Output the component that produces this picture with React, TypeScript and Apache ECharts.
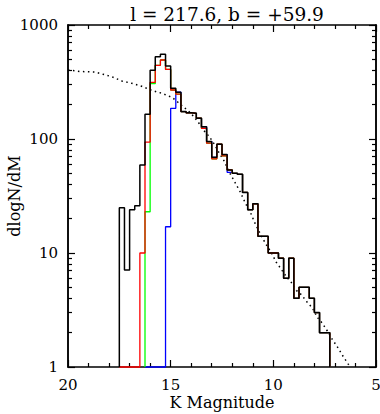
import React, { useEffect, useRef } from "react";
import * as echarts from "echarts";

// Histogram bins: 0.25 mag wide, listed from the faint (left) start edge toward brighter mags
const binWidth = 0.25;

const blackStart = 17.5;
const blackValues = [
  25, 7.1, 24, 26, 59, 165, 401, 527, 553, 437, 279, 257, 174, 170, 168, 152, 128, 95, 69, 90,
  73, 53.5, 50, 49, 34, 24, 27, 14, 14, 10, 10, 9, 6, 9, 4, 5, 5, 4, 3, 2, 2,
];

const redStart = 17.5;
const redValues = [
  0, 0, 0, 0, 10, 94, 314, 443, 493, 408, 269, 248, 174, 170, 168, 152, 124, 92, 67, 90,
  71, 53.5, 50, 49, 34, 24, 27, 14, 14, 10, 10, 9, 6, 9, 4, 5, 5, 4, 3, 2, 2,
];

const greenStart = 16.25;
const greenValues = [
  23, 306, 443, 493, 408, 269, 248, 174, 170, 168, 152, 124, 92, 67, 90, 71, 53.5, 50, 49, 34,
  24, 27, 14, 14, 10, 10, 9, 6, 9, 4, 5, 5, 4, 3, 2, 2,
];

const blueStart = 16.25;
const blueValues = [
  0, 0, 0, 0, 17, 186, 257, 174, 170, 168, 152, 128, 95, 69, 90, 73, 51, 50, 49, 34,
  24, 27, 14, 14, 10, 10, 9, 6, 9, 4, 5, 5, 4, 3, 2, 2,
];

// Dotted model curve (K magnitude, dlogN/dM)
const modelMag = [
  20.0, 19.4, 18.7, 18.3, 17.87, 17.38, 16.9, 16.41, 15.92, 15.41, 14.92, 14.63, 14.38, 14.14,
  13.9, 13.65, 13.41, 13.12, 12.87, 12.63, 12.39, 12.14, 11.9, 11.61, 11.36, 11.12, 10.88, 10.65,
  10.39, 10.1, 9.86, 9.61, 9.37, 9.12, 8.88, 8.63, 8.35, 8.1, 7.86, 7.61, 7.37, 7.13, 6.84, 6.59,
  6.35, 6.25,
];
const modelValues = [
  403, 391, 387, 370, 352, 323, 308, 290, 267, 251, 231, 209, 191, 177, 159, 140, 120, 105, 90,
  75, 64, 51, 42.6, 34.3, 27.3, 22.8, 18, 14.9, 12.2, 10.1, 8.3, 7.2, 6.2, 5.5, 4.7, 4.3, 3.7, 3.3,
  2.73, 2.42, 2.07, 1.75, 1.46, 1.23, 1.06, 1.0,
];

const yTickValues = [1, 10, 100, 1000];
const yMinorValues = [2, 3, 4, 5, 6, 7, 8, 9, 20, 30, 40, 50, 60, 70, 80, 90, 200, 300, 400, 500, 600, 700, 800, 900];
const xTicks = [20, 15, 10, 5];
const titleText = "l = 217.6, b = +59.9";

const FONT = "DejaVu Serif";
const lg = (v: number) => (v > 0 ? Math.log10(v) : 0);

function stepPoints(start: number, values: number[]) {
  const pts: number[][] = [[start, 0]];
  values.forEach((v, i) => pts.push([start - i * binWidth, v]));
  const end = start - values.length * binWidth;
  pts.push([end, values[values.length - 1]]);
  pts.push([end, 0]);
  return pts.map(([m, v]) => [m, lg(v)]);
}

export default function App() {
  const ref = useRef<HTMLDivElement>(null);
  useEffect(() => {
    if (!ref.current) return;
    const chart = echarts.init(ref.current, null, { renderer: "svg" });
    const yMin = lg(yTickValues[0]);
    const yMax = lg(yTickValues[yTickValues.length - 1]);
    const xMin = Math.min(...xTicks);
    const xMax = Math.max(...xTicks);
    const baseY = (position: string, labels: boolean, minor: boolean) => ({
      type: "value",
      position,
      min: yMin,
      max: yMax,
      interval: 1,
      axisLine: { show: true, onZero: false, lineStyle: { color: "#000", width: 1.5 } },
      axisTick: minor
        ? { show: true, inside: true, length: 4, customValues: yMinorValues.map(lg), lineStyle: { color: "#000", width: 1.2 } }
        : { show: true, inside: true, length: 7, lineStyle: { color: "#000", width: 1.2 } },
      axisLabel: labels
        ? {
            show: true,
            margin: 10,
            fontFamily: FONT,
            fontSize: 15,
            color: "#000",
            formatter: (v: number) => String(Math.round(Math.pow(10, v))),
          }
        : { show: false },
      splitLine: { show: false },
      ...(labels
        ? {
            name: "dlogN/dM",
            nameLocation: "middle",
            nameGap: 46,
            nameMoveOverlap: false,
            nameTextStyle: { fontFamily: FONT, fontSize: 16, color: "#000" },
          }
        : {}),
    });
    const baseX = (position: string, labels: boolean) => ({
      type: "value",
      position,
      min: xMin,
      max: xMax,
      interval: 5,
      inverse: true,
      axisLine: { show: true, onZero: false, lineStyle: { color: "#000", width: 1.5 } },
      axisTick: { show: true, inside: true, length: 7, lineStyle: { color: "#000", width: 1.2 } },
      minorTick: { show: true, splitNumber: 5, length: 4, lineStyle: { color: "#000", width: 1.2 } },
      axisLabel: labels
        ? { show: true, margin: 10, fontFamily: FONT, fontSize: 15, color: "#000" }
        : { show: false },
      splitLine: { show: false },
      minorSplitLine: { show: false },
      ...(labels
        ? {
            name: "K Magnitude",
            nameLocation: "middle",
            nameGap: 27,
            nameMoveOverlap: false,
            nameTextStyle: { fontFamily: FONT, fontSize: 16, color: "#000" },
          }
        : {}),
    });
    const hist = (name: string, start: number, values: number[], color: string, width: number) => ({
      name,
      type: "line",
      step: "end",
      data: stepPoints(start, values),
      showSymbol: false,
      symbol: "none",
      lineStyle: { color, width },
      clip: false,
    });
    chart.setOption({
      animation: false,
      backgroundColor: "#fff",
      title: {
        text: titleText,
        left: 222,
        top: 0,
        textAlign: "center",
        textStyle: { fontFamily: FONT, fontSize: 18.5, fontWeight: "normal", color: "#000" },
      },
      grid: { left: 68, right: 4, top: 25, bottom: 47, containLabel: false, outerBoundsMode: "none" },
      xAxis: [baseX("bottom", true), baseX("top", false)],
      yAxis: [baseY("left", true, false), baseY("left", false, true), baseY("right", false, false), baseY("right", false, true)],
      series: [
        {
          name: "model",
          type: "line",
          data: modelMag.map((m, i) => [m, lg(modelValues[i])]),
          showSymbol: false,
          symbol: "none",
          lineStyle: { color: "#000", width: 1.5, type: [1.5, 3.5] },
        },
        hist("blue", blueStart, blueValues, "#0000ff", 1.3),
        hist("green", greenStart, greenValues, "#00ff00", 1.3),
        hist("red", redStart, redValues, "#ff0000", 1.3),
        hist("total", blackStart, blackValues, "#000000", 1.5),
      ],
    });
    return () => chart.dispose();
  }, []);
  return (
    <div
      ref={ref}
      style={{ position: "fixed", left: 0, top: 0, width: 380, height: 414, background: "#fff" }}
    />
  );
}
